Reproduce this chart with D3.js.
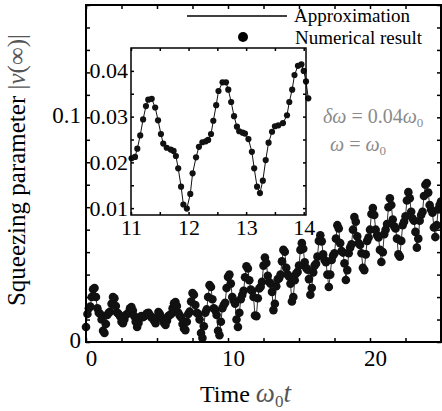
<!DOCTYPE html>
<html>
<head>
<meta charset="utf-8">
<script src="https://cdn.jsdelivr.net/npm/d3@7"></script>
<style>
  body { margin: 0; background: #fff; }
  svg { display: block; }
</style>
</head>
<body>
<svg width="442" height="411"></svg>
<script>
// main series: |nu| sampled every 0.1 from t = 0
const mainStart = 0;
const mainStep = 0.1;
const mainValues = [
  0.0067,0.0125,0.0150,0.0158,0.0200,0.0235,0.0240,0.0200,0.0150,0.0130,
  0.0125,0.0100,0.0050,0.0040,0.0080,0.0120,0.0130,0.0135,0.0170,0.0200,
  0.0195,0.0160,0.0130,0.0125,0.0115,0.0090,0.0084,0.0100,0.0120,0.0125,
  0.0130,0.0150,0.0156,0.0140,0.0115,0.0090,0.0067,0.0085,0.0110,0.0115,
  0.0110,0.0115,0.0120,0.0128,0.0130,0.0120,0.0110,0.0105,0.0095,0.0084,
  0.0110,0.0133,0.0125,0.0110,0.0100,0.0085,0.0076,0.0095,0.0115,0.0120,
  0.0125,0.0150,0.0172,0.0178,0.0160,0.0130,0.0118,0.0110,0.0080,0.0060,
  0.0053,0.0090,0.0125,0.0135,0.0180,0.0218,0.0210,0.0165,0.0130,0.0125,
  0.0100,0.0040,0.0018,0.0070,0.0130,0.0145,0.0200,0.0253,0.0245,0.0190,
  0.0150,0.0142,0.0120,0.0050,0.0030,0.0090,0.0150,0.0165,0.0175,0.0240,
  0.0290,0.0300,0.0260,0.0200,0.0185,0.0170,0.0100,0.0067,0.0130,0.0190,
  0.0209,0.0228,0.0288,0.0337,0.0327,0.0275,0.0234,0.0227,0.0200,0.0118,
  0.0115,0.0195,0.0238,0.0246,0.0268,0.0340,0.0376,0.0352,0.0295,0.0267,
  0.0260,0.0223,0.0142,0.0170,0.0248,0.0279,0.0284,0.0300,0.0359,0.0410,
  0.0402,0.0330,0.0300,0.0292,0.0260,0.0180,0.0200,0.0275,0.0305,0.0312,
  0.0340,0.0410,0.0440,0.0415,0.0355,0.0330,0.0322,0.0280,0.0210,0.0240,
  0.0310,0.0340,0.0348,0.0380,0.0450,0.0475,0.0448,0.0390,0.0365,0.0355,
  0.0300,0.0245,0.0300,0.0365,0.0385,0.0395,0.0460,0.0520,0.0505,0.0440,
  0.0405,0.0398,0.0350,0.0276,0.0320,0.0395,0.0420,0.0435,0.0500,0.0556,
  0.0535,0.0470,0.0440,0.0432,0.0395,0.0330,0.0320,0.0390,0.0450,0.0465,
  0.0500,0.0570,0.0596,0.0565,0.0500,0.0475,0.0465,0.0410,0.0356,0.0400,
  0.0480,0.0500,0.0525,0.0600,0.0640,0.0610,0.0545,0.0515,0.0505,0.0460,
  0.0390,0.0380,0.0450,0.0520,0.0535,0.0560,0.0630,0.0667,0.0640,0.0580,
  0.0550,0.0540,0.0490,0.0420,0.0460,0.0540,0.0565,0.0580,0.0650,0.0700,
  0.0707,0.0665,0.0610,0.0590,0.0575,0.0510,0.0467,0.0520,0.0590,0.0610,
  0.0625
];

// inset: zoom on 11 < t < 14
const insetTimes = [
  11.01,11.07,11.11,11.16,11.21,11.26,11.30,11.36,11.42,11.47,
  11.52,11.56,11.62,11.69,11.74,11.78,11.82,11.87,11.91,11.97,
  12.03,12.07,12.13,12.18,12.24,12.30,12.34,12.39,12.43,12.48,
  12.52,12.59,12.65,12.69,12.74,12.79,12.84,12.88,12.94,12.98,
  13.04,13.10,13.14,13.19,13.24,13.29,13.34,13.39,13.45,13.50,
  13.56,13.64,13.71,13.75,13.80,13.84,13.90,13.96,14.00,14.04,
  14.08
];
const insetValues = [
  0.0209,0.0212,0.0230,0.0259,0.0294,0.0323,0.0337,0.0339,0.0320,0.0292,
  0.0262,0.0241,0.0232,0.0228,0.0225,0.0214,0.0187,0.0147,0.0108,0.0099,
  0.0131,0.0176,0.0211,0.0234,0.0244,0.0246,0.0249,0.0262,0.0291,0.0325,
  0.0356,0.0375,0.0375,0.0359,0.0332,0.0301,0.0278,0.0268,0.0265,0.0263,
  0.0251,0.0223,0.0187,0.0147,0.0133,0.0160,0.0205,0.0243,0.0267,0.0279,
  0.0281,0.0286,0.0303,0.0332,0.0359,0.0391,0.0411,0.0414,0.0400,0.0377,
  0.0340
];

const mainXTicks = [0, 2.5, 5, 7.5, 10, 12.5, 15, 17.5, 20, 22.5, 25];
const mainXLabels = [0, 10, 20];
const mainYTicks = [0,0.01,0.02,0.03,0.04,0.05,0.06,0.07,0.08,0.09,0.1,0.11,0.12,0.13,0.14,0.15];
const mainYLabels = [0, 0.1];
const insetXTicks = [11, 11.5, 12, 12.5, 13, 13.5, 14];
const insetXLabels = [11, 12, 13, 14];
const insetYTicks = [0.01, 0.015, 0.02, 0.025, 0.03, 0.035, 0.04];
const insetYLabels = [0.01, 0.02, 0.03, 0.04];
const legendLabels = ['Approximation', 'Numerical result'];

const svg = d3.select('svg');
const serif = 'Liberation Serif';
const mathGray = '#8a8a8a';

const mainData = mainValues.map((v, i) => ({ t: mainStart + i * mainStep, v }));
const insetData = insetTimes.map((t, i) => ({ t, v: insetValues[i] }));

// main frame
const mx = d3.scaleLinear().domain([0, 25]).range([86, 441]);
const my = d3.scaleLinear().domain([0, 0.15]).range([342, 5]);

const fmtMainY = d => mainYLabels.some(l => Math.abs(l - d) < 1e-9) ? (d === 0 ? '0' : d3.format('.1f')(d)) : '';
const fmtMainX = d => mainXLabels.includes(d) ? d : '';

function styleAxis(g) {
  g.attr('font-family', serif);
  g.select('.domain').remove();
  g.selectAll('.tick line').attr('stroke', '#000').attr('stroke-width', 1.5);
  g.selectAll('.tick text').attr('fill', '#000').style('font-family', serif);
}

svg.append('g')
  .attr('transform', `translate(0,${my(0)})`)
  .call(d3.axisBottom(mx).tickValues(mainXTicks).tickFormat(fmtMainX).tickSizeInner(-4).tickSizeOuter(0).tickPadding(10))
  .call(styleAxis)
  .call(g => g.selectAll('.tick text').attr('font-size', 23).attr('dx', 5).attr('dy', '0.62em'));

svg.append('g')
  .attr('transform', `translate(0,${my(0.15)})`)
  .call(d3.axisTop(mx).tickValues(mainXTicks).tickFormat('').tickSizeInner(-4).tickSizeOuter(0))
  .call(styleAxis);

svg.append('g')
  .attr('transform', `translate(${mx(0)},0)`)
  .call(d3.axisLeft(my).tickValues(mainYTicks).tickFormat(fmtMainY).tickSizeInner(-4).tickSizeOuter(0).tickPadding(5))
  .call(styleAxis)
  .call(g => g.selectAll('.tick text').attr('font-size', 23).attr('dy', '0.22em'));

svg.append('g')
  .attr('transform', `translate(${mx(25)},0)`)
  .call(d3.axisRight(my).tickValues(mainYTicks).tickFormat('').tickSizeInner(-4).tickSizeOuter(0))
  .call(styleAxis);

const mainLine = d3.line().x(d => mx(d.t)).y(d => my(d.v));
svg.append('path')
  .datum(mainData)
  .attr('d', mainLine)
  .attr('fill', 'none')
  .attr('stroke', '#333')
  .attr('stroke-width', 1);

svg.append('g')
  .selectAll('circle')
  .data(mainData)
  .join('circle')
  .attr('cx', d => mx(d.t))
  .attr('cy', d => my(d.v))
  .attr('r', 4.3)
  .attr('fill', '#111');

svg.append('rect')
  .attr('x', mx(0)).attr('y', my(0.15))
  .attr('width', mx(25) - mx(0)).attr('height', my(0) - my(0.15))
  .attr('fill', 'none').attr('stroke', '#000').attr('stroke-width', 2);

// inset
const ix = d3.scaleLinear().domain([11, 14.04]).range([131, 306]);
const iy = d3.scaleLinear().domain([0.0085, 0.045]).range([215, 48]);

const inset = svg.append('g');
inset.append('rect')
  .attr('x', ix(11)).attr('y', iy(0.045))
  .attr('width', ix(14.04) - ix(11)).attr('height', iy(0.0085) - iy(0.045))
  .attr('fill', '#fff');

inset.append('g')
  .attr('transform', `translate(0,${iy(0.0085)})`)
  .call(d3.axisBottom(ix).tickValues(insetXTicks).tickFormat(d => insetXLabels.includes(d) ? d : '').tickSizeInner(-3).tickSizeOuter(0).tickPadding(6))
  .call(styleAxis)
  .call(g => g.selectAll('.tick text').attr('font-size', 22).attr('dy', '0.62em'));

inset.append('g')
  .attr('transform', `translate(0,${iy(0.045)})`)
  .call(d3.axisTop(ix).tickValues(insetXTicks).tickFormat('').tickSizeInner(-3).tickSizeOuter(0))
  .call(styleAxis);

inset.append('g')
  .attr('transform', `translate(${ix(11)},0)`)
  .call(d3.axisLeft(iy).tickValues(insetYTicks).tickFormat(d => insetYLabels.some(l => Math.abs(l - d) < 1e-9) ? d3.format('.2f')(d) : '').tickSizeInner(-3).tickSizeOuter(0).tickPadding(3))
  .call(styleAxis)
  .call(g => g.selectAll('.tick text').attr('font-size', 22).attr('dy', '0.32em'));

inset.append('g')
  .attr('transform', `translate(${ix(14.04)},0)`)
  .call(d3.axisRight(iy).tickValues(insetYTicks).tickFormat('').tickSizeInner(-3).tickSizeOuter(0))
  .call(styleAxis);

inset.append('path')
  .datum(insetData)
  .attr('d', d3.line().x(d => ix(d.t)).y(d => iy(d.v)))
  .attr('fill', 'none')
  .attr('stroke', '#111')
  .attr('stroke-width', 1);

inset.append('g')
  .selectAll('circle')
  .data(insetData)
  .join('circle')
  .attr('cx', d => ix(d.t))
  .attr('cy', d => iy(d.v))
  .attr('r', 3.1)
  .attr('fill', '#111');

inset.append('rect')
  .attr('x', ix(11)).attr('y', iy(0.045))
  .attr('width', ix(14.04) - ix(11)).attr('height', iy(0.0085) - iy(0.045))
  .attr('fill', 'none').attr('stroke', '#000').attr('stroke-width', 1.5);

// legend
const legend = svg.append('g').attr('font-size', 19).attr('font-family', serif);
legend.append('line')
  .attr('x1', 187).attr('x2', 287).attr('y1', 16).attr('y2', 16)
  .attr('stroke', '#000').attr('stroke-width', 1.6);
legend.append('text').attr('x', 294).attr('y', 22).text(legendLabels[0]);
legend.append('circle').attr('cx', 243).attr('cy', 37).attr('r', 5).attr('fill', '#000');
legend.append('text').attr('x', 295).attr('y', 44).text(legendLabels[1]);

// parameter annotations
const ann1 = svg.append('text').attr('x', 323).attr('y', 123).attr('font-size', 20)
  .attr('font-family', serif).attr('fill', mathGray);
ann1.append('tspan').attr('font-style', 'italic').text('δω');
ann1.append('tspan').text(' = 0.04');
ann1.append('tspan').attr('font-style', 'italic').text('ω');
ann1.append('tspan').attr('font-size', 13).attr('dy', 4).text('0');

const ann2 = svg.append('text').attr('x', 330).attr('y', 151).attr('font-size', 20)
  .attr('font-family', serif).attr('fill', mathGray);
ann2.append('tspan').attr('font-style', 'italic').text('ω');
ann2.append('tspan').text(' = ');
ann2.append('tspan').attr('font-style', 'italic').text('ω');
ann2.append('tspan').attr('font-size', 13).attr('dy', 4).text('0');

// axis titles
const xt = svg.append('text').attr('x', 200).attr('y', 402).attr('font-size', 24).attr('font-family', serif);
xt.append('tspan').text('Time ');
xt.append('tspan').attr('font-style', 'italic').attr('fill', '#555').attr('font-size', 27).text('ω');
xt.append('tspan').attr('fill', '#555').attr('font-size', 17).attr('dy', 5).text('0');
xt.append('tspan').attr('font-style', 'italic').attr('fill', '#555').attr('font-size', 27).attr('dy', -5).text('t');

const yt = svg.append('text')
  .attr('transform', 'translate(25,170) rotate(-90)')
  .attr('text-anchor', 'middle')
  .attr('font-family', serif)
  .attr('font-size', 25);
yt.append('tspan').text('Squeezing parameter ');
yt.append('tspan').attr('fill', '#555').text('|');
yt.append('tspan').attr('fill', '#555').attr('font-style', 'italic').text('ν');
yt.append('tspan').attr('fill', '#555').text('(∞)|');
</script>
</body>
</html>
